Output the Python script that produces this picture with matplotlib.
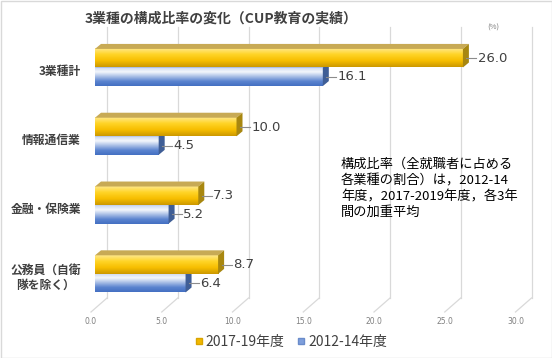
import numpy as np
import matplotlib
matplotlib.use("Agg")
import matplotlib.pyplot as plt
from matplotlib.colors import LinearSegmentedColormap
from matplotlib.patches import Polygon, Rectangle
from matplotlib.lines import Line2D

plt.rcParams["font.family"] = ["Noto Sans CJK JP", "DejaVu Sans"]

# Data
categories = ["3業種計", "情報通信業", "金融・保険業", "公務員（自衛\n隊を除く）"]
series_names = ["2017-19年度", "2012-14年度"]
vals_2017 = [26.0, 10.0, 7.3, 8.7]
vals_2012 = [16.1, 4.5, 5.2, 6.4]
xticks = [0, 5, 10, 15, 20, 25, 30]
title = "3業種の構成比率の変化（CUP教育の実績）"
note = "構成比率（全就職者に占める\n各業種の割合）は，2012-14\n年度，2017-2019年度，各3年\n間の加重平均"

W, H = 552, 358
fig = plt.figure(figsize=(W / 100, H / 100), dpi=100)
ax = fig.add_axes([0, 0, 1, 1])
ax.axis("off")

# pixel geometry of the chart
X0, SX = 95, 14.15          # pixel of value 0, pixels per unit
Y0, SY = 67.5, 68.8         # pixel of first category centre, pixels per category
px = 1 / SX
py = 1 / SY
def yp(p):
    return (p - Y0) / SY

bar_h = 0.27
dx, dy = 6 * px, 5 * py     # bar depth

# back wall gridlines and floor
for t in xticks:
    xb = t + 12 * px
    xf = t - 4 * px
    ax.plot([xb, xb], [yp(27), yp(298)], color="#D9D9D9", lw=0.9, zorder=1)
    ax.plot([xb, xf], [yp(298), yp(312)], color="#D9D9D9", lw=0.9, zorder=1)
    ax.text(xf, yp(322), f"{t:.1f}", ha="center", va="center",
            fontsize=5.5, color="#7F7F7F", family="DejaVu Sans")

gold = LinearSegmentedColormap.from_list(
    "gold", ["#FFE88A", "#FFD426", "#F7BE00", "#CC9800"])
blue = LinearSegmentedColormap.from_list(
    "blue", ["#C9D6F0", "#F4F7FC", "#A8BEE6", "#5B84CF", "#4470C2"])
grad = np.linspace(0, 1, 64).reshape(-1, 1)


def bar3d(v, yc, cmap, top_col, side_col):
    y_top = yc - bar_h / 2
    y_bot = yc + bar_h / 2
    ax.imshow(grad, cmap=cmap, aspect="auto", extent=[0, v, y_bot, y_top],
              zorder=3, interpolation="bilinear")
    ax.add_patch(Polygon([(0, y_top), (v, y_top), (v + dx, y_top - dy),
                          (dx, y_top - dy)], closed=True,
                         facecolor=top_col, edgecolor="none", zorder=3))
    ax.add_patch(Polygon([(v, y_top), (v + dx, y_top - dy),
                          (v + dx, y_bot - dy), (v, y_bot)], closed=True,
                         facecolor=side_col, edgecolor="none", zorder=3))
    ax.plot([v + 0.25, v + 0.95], [yc, yc], color="#8C8C8C", lw=0.8, zorder=4)
    ax.text(v + 1.05, yc, f"{v:.1f}", ha="left", va="center",
            fontsize=9.5, color="#404040", family="DejaVu Sans", zorder=4)


for i in range(len(categories)):
    bar3d(vals_2012[i], i + bar_h / 2, blue, "#8FA9DA", "#3F5E96")
    bar3d(vals_2017[i], i - bar_h / 2, gold, "#C8AA55", "#A88710")
    ax.text(-14 * px, i + 0.06, categories[i], ha="right", va="center",
            fontsize=8.5, fontweight="bold", color="#404040",
            multialignment="center", linespacing=1.25)

ax.set_xlim(-X0 / SX, (W - X0) / SX)
ax.set_ylim(yp(H), yp(0))

fig.text(85 / W, 1 - 19 / H, title, ha="left", va="center",
         fontsize=10, fontweight="bold", color="#404040")
fig.text(493 / W, 1 - 28 / H, "(%)", ha="center", va="center",
         fontsize=5.5, color="#7F7F7F")
fig.text(341 / W, 1 - 158 / H, note, ha="left", va="top",
         fontsize=9.5, color="#000000", linespacing=1.3)

handles = [Line2D([], [], marker="s", ls="none", markersize=5,
                  markerfacecolor="#F2B800", markeredgecolor="#D9A400"),
           Line2D([], [], marker="s", ls="none", markersize=5,
                  markerfacecolor="#7E9FDC", markeredgecolor="#6A8CCB")]
fig.legend(handles, series_names, loc="center", ncol=2,
           bbox_to_anchor=(291 / W, 1 - 342 / H), frameon=False,
           fontsize=10, handlelength=0.6, handletextpad=0.2,
           columnspacing=0.9, labelcolor="#404040")

fig.add_artist(Rectangle((0.5 / W, 0.5 / H), 1 - 1 / W, 1 - 1 / H,
                         transform=fig.transFigure, fill=False,
                         edgecolor="#D9D9D9", lw=1))

fig.savefig("out.png", dpi=100)
